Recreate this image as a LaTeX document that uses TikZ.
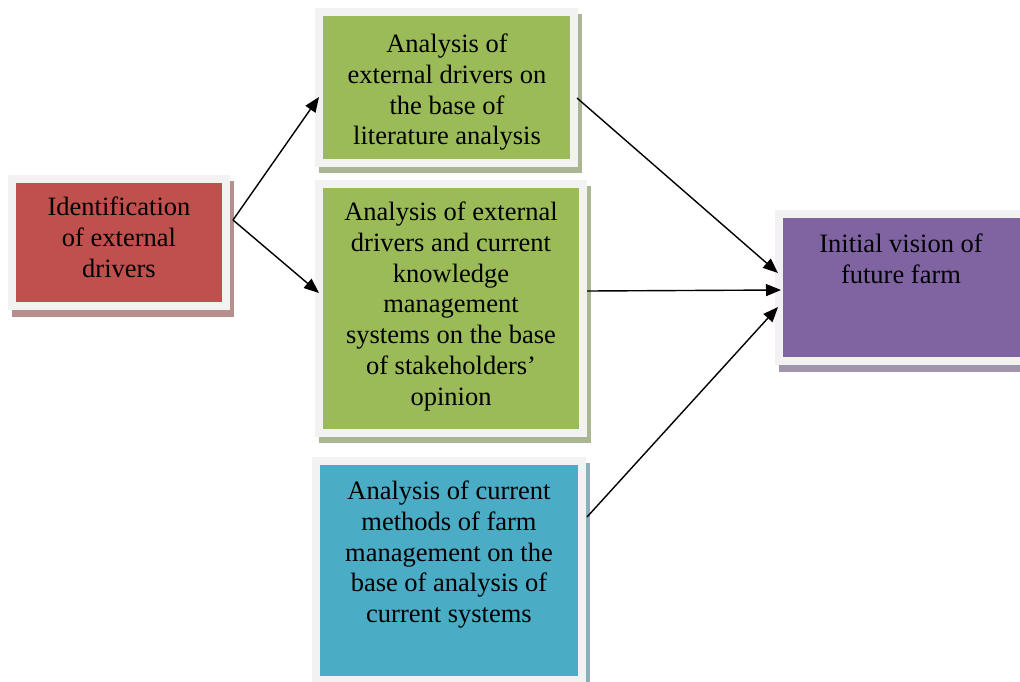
\documentclass[tikz,border=0pt]{standalone}
\usepackage{fontspec}
\setmainfont{Liberation Serif}
\usetikzlibrary{arrows.meta}
\definecolor{cred}{RGB}{192,80,77}
\definecolor{cgreen}{RGB}{155,187,89}
\definecolor{cblue}{RGB}{75,172,198}
\definecolor{cpurple}{RGB}{128,100,162}
\definecolor{framegray}{RGB}{242,242,242}
\begin{document}
\begin{tikzpicture}[x=1pt,y=-1pt,
  boxnode/.style={draw=framegray, line width=8pt, inner sep=0pt},
  label text/.style={inner sep=0pt, anchor=north, align=center, font=\fontsize{26.5}{30.7}\selectfont},
  conn/.style={line width=1.4pt, -{Triangle[length=15pt,width=12pt]}}]
\useasboundingbox (0,0) rectangle (1020,681);
\clip (0,0) rectangle (1020,681);
% shadows
\fill[cred!50!gray!75!white] (12,181) rectangle (234,317);
\fill[cgreen!50!gray!75!white] (319,14) rectangle (582,173);
\fill[cgreen!50!gray!75!white] (319,186) rectangle (591,443);
\fill[cblue!50!gray!75!white] (316,463) rectangle (590,690);
\fill[cpurple!50!gray!75!white] (779,216) rectangle (1034,372);
% boxes
\node[boxnode, fill=cred, minimum width=214pt, minimum height=127pt] (A) at (119,242.5) {};
\node[boxnode, fill=cgreen, minimum width=255pt, minimum height=151pt] (B) at (446.5,87.5) {};
\node[boxnode, fill=cgreen, minimum width=264pt, minimum height=249pt] (C) at (451,308.5) {};
\node[boxnode, fill=cblue, minimum width=266pt, minimum height=219pt] (D) at (449,570.5) {};
\node[boxnode, fill=cpurple, minimum width=247pt, minimum height=147pt] (E) at (902.5,287.5) {};
% texts
\node[label text] (At) at (119,197) {Identification\\of external\\drivers};
\node[label text] (Bt) at (447,34) {Analysis of\\external drivers on\\the base of\\literature analysis};
\node[label text] (Ct) at (451,202) {Analysis of external\\drivers and current\\knowledge\\management\\systems on the base\\of stakeholders’\\opinion};
\node[label text] (Dt) at (449,481) {Analysis of current\\methods of farm\\management on the\\base of analysis of\\current systems};
\node[label text] (Et) at (901,234) {Initial vision of\\future farm};
% connector end points
\coordinate (a1) at (233,220);
\coordinate (b1) at (319,97);
\coordinate (c1) at (319,293);
\coordinate (b2) at (577,98);
\coordinate (c2) at (587,291);
\coordinate (d2) at (587,517);
\coordinate (e1) at (778,273);
\coordinate (e2) at (781,290);
\coordinate (e3) at (778,307);
\draw[conn] (a1) -- (b1);
\draw[conn] (a1) -- (c1);
\draw[conn] (b2) -- (e1);
\draw[conn] (c2) -- (e2);
\draw[conn] (d2) -- (e3);
\end{tikzpicture}
\end{document}
